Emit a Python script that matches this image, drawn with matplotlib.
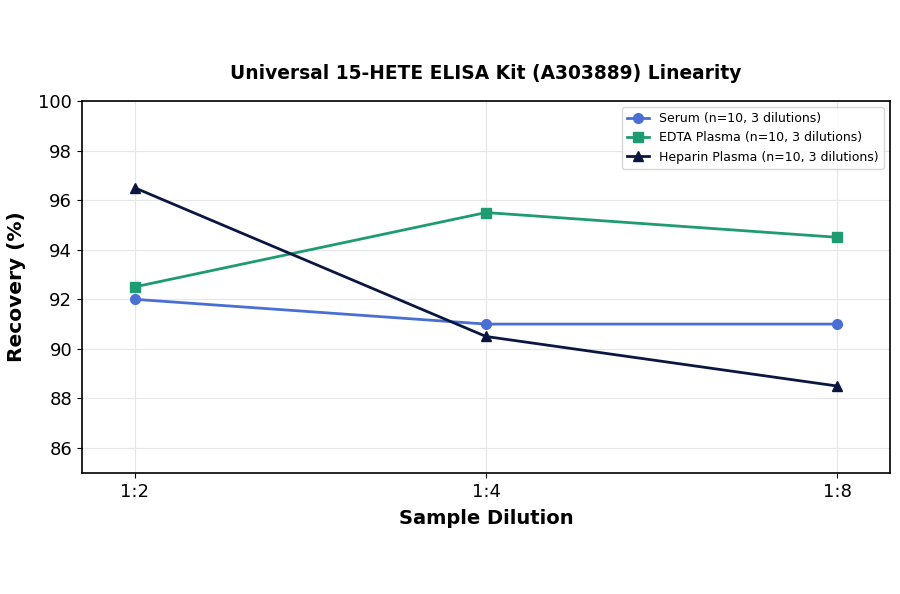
import matplotlib
matplotlib.use("Agg")
import matplotlib.pyplot as plt

dilutions = ["1:2", "1:4", "1:8"]
serum = [92.0, 91.0, 91.0]
edta = [92.5, 95.5, 94.5]
heparin = [96.5, 90.5, 88.5]

fig = plt.figure(figsize=(9, 5.94), dpi=100)
ax = fig.add_axes([0.091, 0.204, 0.898, 0.626])

x = range(len(dilutions))
ax.plot(x, serum, marker="o", color="#4a6fd4", lw=2, ms=7, label="Serum (n=10, 3 dilutions)")
ax.plot(x, edta, marker="s", color="#1f9b72", lw=2, ms=7, label="EDTA Plasma (n=10, 3 dilutions)")
ax.plot(x, heparin, marker="^", color="#0b1740", lw=2, ms=7, label="Heparin Plasma (n=10, 3 dilutions)")

ax.set_xticks(list(x))
ax.set_xticklabels(dilutions)
ax.set_xlim(-0.15, 2.15)
ax.set_ylim(85, 100)
ax.set_yticks(range(86, 101, 2))
ax.tick_params(labelsize=13)
ax.grid(True, color="#e6e6e6", lw=0.8)
for s in ax.spines.values():
    s.set_linewidth(1.2)

ax.set_xlabel("Sample Dilution", fontsize=14, fontweight="bold", labelpad=6)
ax.set_ylabel("Recovery (%)", fontsize=14.5, fontweight="bold", labelpad=9)
ax.set_title("Universal 15-HETE ELISA Kit (A303889) Linearity", fontsize=13.4, fontweight="bold", pad=16)
ax.legend(loc="upper right", fontsize=9, handlelength=1.8)

fig.savefig("out.png", dpi=100)
